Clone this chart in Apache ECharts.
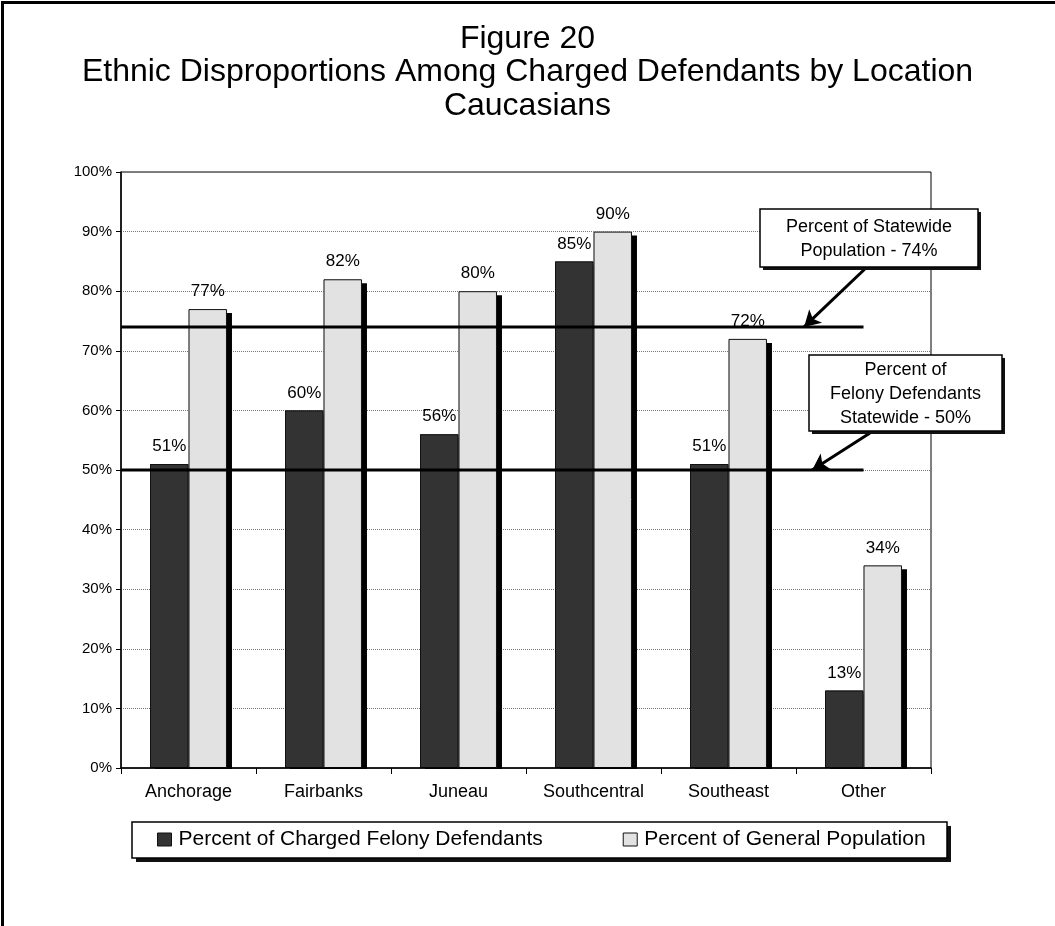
<!DOCTYPE html>
<html>
<head>
<meta charset="utf-8">
<title>Figure 20</title>
<script src="https://cdn.jsdelivr.net/npm/echarts@6/dist/echarts.min.js"></script>
<style>
  html, body { margin: 0; padding: 0; background: #fff; }
  #chart { width: 1055px; height: 926px; }
</style>
</head>
<body>
<div id="chart"></div>
<script>
// Locations along the x axis
const categories = ['Anchorage', 'Fairbanks', 'Juneau', 'Southcentral', 'Southeast', 'Other'];
// Share of Caucasians among charged felony defendants, by location (%)
const felonyDefendantsPct = [51, 60, 56, 85, 51, 13];
// Share of Caucasians in the general population, by location (%)
const generalPopulationPct = [77, 82, 80, 90, 72, 34];
// Statewide reference levels (%)
const statewidePopulationPct = 74;
const statewideFelonyPct = 50;

const seriesNames = ['Percent of Charged Felony Defendants', 'Percent of General Population'];
const titleLines = ['Figure 20', 'Ethnic Disproportions Among Charged Defendants by Location', 'Caucasians'];
const populationNote = ['Percent of Statewide', 'Population - ' + statewidePopulationPct + '%'];
const felonyNote = ['Percent of', 'Felony Defendants', 'Statewide - ' + statewideFelonyPct + '%'];

const FONT = '"Liberation Sans", Arial, Helvetica, sans-serif';
const chart = echarts.init(document.getElementById('chart'), null, { renderer: 'canvas' });

// reference lines run from the y axis to this point (in category units)
const refLineEnd = 5.5;

// framed box with a solid drop shadow (used for callouts and the legend frame)
function shadowBox(x, y, w, h, off, z) {
  return [
    {
      type: 'rect', z: z, silent: true,
      shape: { x: x + off, y: y + off, width: w, height: h },
      style: { fill: '#111', stroke: null }
    },
    {
      type: 'rect', z: z + 1, silent: true,
      shape: { x: x, y: y, width: w, height: h },
      style: { fill: '#fff', stroke: '#000', lineWidth: 1.5 }
    }
  ];
}

function noteBox(x, y, w, h, lines) {
  return shadowBox(x, y, w, h, 3, 60).concat([
    {
      type: 'text', z: 62, silent: true,
      x: x + w / 2,
      y: y + h / 2 + 1,
      style: {
        text: lines.join('\n'),
        font: '18px ' + FONT,
        fill: '#000',
        align: 'center',
        verticalAlign: 'middle',
        lineHeight: 24
      }
    }
  ]);
}

const labelStyle = {
  show: true,
  position: 'top',
  distance: 9,
  formatter: '{c}%',
  fontFamily: FONT,
  fontSize: 17,
  color: '#000'
};

// shared bar layout so the fill bars and their outlines line up
const barLayout = { barCategoryGap: '43%', barGap: '0%' };

function fillSeries(name, data, color, z) {
  return Object.assign({
    name: name,
    type: 'bar',
    xAxisIndex: 0,
    data: data,
    itemStyle: {
      color: color,
      shadowColor: '#000',
      shadowOffsetX: 5,
      shadowOffsetY: 4,
      shadowBlur: 0
    },
    label: labelStyle,
    z: z
  }, barLayout);
}

function outlineSeries(data, z) {
  return Object.assign({
    type: 'bar',
    xAxisIndex: 2,
    data: data,
    silent: true,
    itemStyle: { color: 'rgba(0,0,0,0)', borderColor: '#111', borderWidth: 1 },
    z: z
  }, barLayout);
}

const option = {
  backgroundColor: '#fff',
  animation: false,
  title: {
    text: titleLines.join('\n'),
    left: 'center',
    top: 22,
    padding: 0,
    textStyle: { fontFamily: FONT, fontSize: 32, fontWeight: 'normal', color: '#000', lineHeight: 33.5 }
  },
  legend: {
    data: seriesNames,
    left: 132,
    top: 822,
    orient: 'horizontal',
    icon: 'rect',
    itemWidth: 14,
    itemHeight: 13,
    itemGap: 80,
    padding: [7, 20, 7, 25],
    z: 20,
    itemStyle: { borderColor: '#111', borderWidth: 1 },
    textStyle: { fontFamily: FONT, fontSize: 21, color: '#000', padding: [0, 0, 0, 2] }
  },
  grid: {
    left: 121,
    right: 124,
    top: 172,
    bottom: 158,
    show: true,
    borderColor: '#000',
    borderWidth: 1,
    containLabel: false
  },
  xAxis: [
    {
      type: 'category',
      data: categories,
      z: 8,
      axisLine: { show: true, lineStyle: { color: '#000', width: 1.5 } },
      axisTick: { show: true, length: 6, lineStyle: { color: '#000' } },
      axisLabel: { margin: 15, fontFamily: FONT, fontSize: 18, color: '#000' }
    },
    {
      type: 'value',
      min: 0,
      max: categories.length,
      show: false
    },
    {
      type: 'category',
      data: categories,
      show: false
    }
  ],
  yAxis: {
    type: 'value',
    min: 0,
    max: 100,
    interval: 10,
    axisLine: { show: true, lineStyle: { color: '#000', width: 1.5 } },
    axisTick: { show: true, length: 5, lineStyle: { color: '#000' } },
    axisLabel: { formatter: '{value}%', margin: 9, fontFamily: FONT, fontSize: 15, color: '#000' },
    splitLine: { show: true, lineStyle: { color: '#777', type: 'dotted', width: 1 } }
  },
  series: [
    fillSeries(seriesNames[0], felonyDefendantsPct, '#333333', 2),
    fillSeries(seriesNames[1], generalPopulationPct, '#e2e2e2', 3),
    outlineSeries(felonyDefendantsPct, 4),
    outlineSeries(generalPopulationPct, 4),
    {
      type: 'line',
      xAxisIndex: 1,
      data: [[0, statewidePopulationPct], [refLineEnd, statewidePopulationPct]],
      symbol: 'none',
      silent: true,
      lineStyle: { color: '#000', width: 3 },
      z: 10,
      markLine: {
        silent: true,
        symbol: ['none', 'arrow'],
        symbolSize: [14, 16],
        label: { show: false },
        lineStyle: { color: '#000', width: 3, type: 'solid' },
        data: [[{ x: 868, y: 266 }, { coord: [5.06, statewidePopulationPct] }]]
      }
    },
    {
      type: 'line',
      xAxisIndex: 1,
      data: [[0, statewideFelonyPct], [refLineEnd, statewideFelonyPct]],
      symbol: 'none',
      silent: true,
      lineStyle: { color: '#000', width: 3 },
      z: 10,
      markLine: {
        silent: true,
        symbol: ['none', 'arrow'],
        symbolSize: [14, 16],
        label: { show: false },
        lineStyle: { color: '#000', width: 3, type: 'solid' },
        data: [[{ x: 870, y: 433 }, { coord: [5.12, statewideFelonyPct] }]]
      }
    }
  ],
  graphic: [
    // outer frame of the figure
    {
      type: 'rect',
      z: 100,
      silent: true,
      shape: { x: 2.5, y: 2.5, width: 1200, height: 1100 },
      style: { fill: 'none', stroke: '#000', lineWidth: 3 }
    },
    // keeps the bar drop shadows from spilling below the baseline
    {
      type: 'rect',
      z: 5,
      silent: true,
      shape: { x: 123, y: 769, width: 820, height: 8 },
      style: { fill: '#fff', stroke: null }
    }
  ].concat(
    shadowBox(132, 822, 815, 36, 4, 1),
    noteBox(760, 209, 218, 58, populationNote),
    noteBox(809, 355, 193, 76, felonyNote)
  )
};

chart.setOption(option);
</script>
</body>
</html>
